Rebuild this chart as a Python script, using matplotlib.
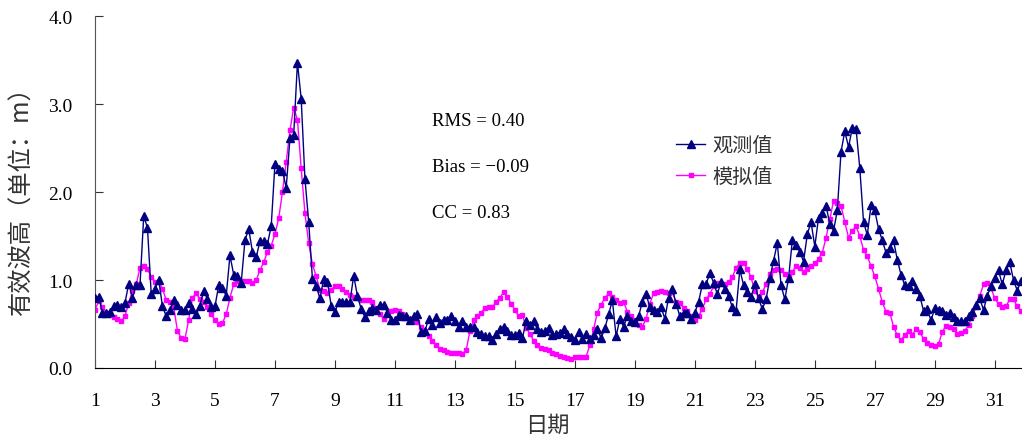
import numpy as np
import matplotlib
matplotlib.use("Agg")
import matplotlib.pyplot as plt

# 3-hourly significant wave height, 8 values per day, days 1..31
obs = [
    0.80, 0.81, 0.63, 0.62, 0.64, 0.71, 0.72, 0.69,
    0.74, 0.96, 0.80, 0.94, 0.94, 1.73, 1.59, 0.84,
    0.90, 1.00, 0.70, 0.59, 0.66, 0.77, 0.72, 0.66,
    0.66, 0.74, 0.67, 0.61, 0.71, 0.88, 0.78, 0.69,
    0.70, 0.94, 0.91, 0.82, 1.28, 1.06, 1.05, 0.97,
    1.45, 1.58, 1.32, 1.26, 1.44, 1.44, 1.41, 1.61,
    2.32, 2.26, 2.24, 2.05, 2.61, 2.65, 3.47, 3.06,
    2.15, 1.66, 1.01, 0.93, 0.79, 1.01, 0.98, 0.71,
    0.64, 0.75, 0.75, 0.75, 0.75, 1.05, 0.82, 0.67,
    0.58, 0.65, 0.68, 0.66, 0.72, 0.72, 0.63, 0.54,
    0.54, 0.60, 0.59, 0.59, 0.55, 0.59, 0.61, 0.41,
    0.42, 0.56, 0.49, 0.58, 0.51, 0.55, 0.55, 0.59,
    0.53, 0.47, 0.53, 0.47, 0.47, 0.47, 0.41, 0.39,
    0.36, 0.36, 0.32, 0.39, 0.44, 0.47, 0.42, 0.38,
    0.38, 0.40, 0.34, 0.53, 0.49, 0.53, 0.44, 0.41,
    0.42, 0.46, 0.37, 0.39, 0.40, 0.44, 0.39, 0.35,
    0.32, 0.41, 0.33, 0.39, 0.33, 0.37, 0.44, 0.34,
    0.45, 0.61, 0.77, 0.36, 0.56, 0.47, 0.59, 0.53,
    0.52, 0.59, 0.75, 0.84, 0.69, 0.66, 0.64, 0.69,
    0.56, 0.80, 0.90, 0.73, 0.59, 0.63, 0.63, 0.56,
    0.63, 0.75, 0.95, 0.95, 1.08, 0.97, 0.84, 0.98,
    0.90, 0.82, 0.69, 0.65, 1.12, 0.94, 0.86, 0.81,
    0.95, 0.79, 0.67, 0.78, 1.02, 1.22, 1.42, 0.94,
    0.78, 1.02, 1.45, 1.40, 1.32, 1.21, 1.52, 1.66,
    1.38, 1.71, 1.76, 1.84, 1.64, 1.56, 1.79, 2.46,
    2.69, 2.51, 2.73, 2.72, 2.27, 1.66, 1.51, 1.85,
    1.79, 1.58, 1.45, 1.31, 1.36, 1.45, 1.23, 1.06,
    0.94, 0.93, 0.99, 0.90, 0.82, 0.65, 0.67, 0.54,
    0.68, 0.66, 0.65, 0.60, 0.63, 0.58, 0.53, 0.53,
    0.53, 0.59, 0.64, 0.72, 0.79, 0.66, 0.82, 0.93,
    1.02, 1.11, 0.95, 1.11, 1.20, 1.00, 0.88, 0.99,
]

sim = [
    0.66, 0.76, 0.69, 0.63, 0.60, 0.58, 0.56, 0.53,
    0.59, 0.74, 0.88, 0.95, 1.14, 1.16, 1.13, 1.03,
    0.98, 0.98, 0.90, 0.77, 0.75, 0.69, 0.42, 0.34,
    0.33, 0.55, 0.80, 0.85, 0.78, 0.75, 0.69, 0.61,
    0.54, 0.50, 0.51, 0.61, 0.80, 0.95, 0.99, 0.99,
    0.99, 0.99, 0.97, 1.00, 1.11, 1.20, 1.32, 1.39,
    1.52, 1.70, 2.00, 2.34, 2.70, 2.96, 2.82, 2.27,
    1.76, 1.42, 1.18, 1.04, 0.89, 0.87, 0.85, 0.89,
    0.93, 0.93, 0.90, 0.86, 0.83, 0.81, 0.79, 0.77,
    0.77, 0.77, 0.75, 0.68, 0.61, 0.56, 0.61, 0.65,
    0.66, 0.65, 0.61, 0.58, 0.56, 0.54, 0.52, 0.47,
    0.42, 0.36, 0.31, 0.26, 0.22, 0.20, 0.18, 0.17,
    0.17, 0.17, 0.16, 0.20, 0.42, 0.54, 0.59, 0.63,
    0.68, 0.69, 0.69, 0.75, 0.80, 0.86, 0.81, 0.73,
    0.66, 0.59, 0.60, 0.46, 0.39, 0.31, 0.26, 0.23,
    0.22, 0.20, 0.17, 0.16, 0.14, 0.13, 0.11, 0.10,
    0.12, 0.12, 0.12, 0.13, 0.26, 0.44, 0.63, 0.72,
    0.79, 0.85, 0.81, 0.77, 0.74, 0.75, 0.64, 0.59,
    0.55, 0.49, 0.47, 0.56, 0.73, 0.85, 0.86, 0.87,
    0.86, 0.85, 0.86, 0.75, 0.74, 0.68, 0.65, 0.59,
    0.54, 0.59, 0.67, 0.78, 0.84, 0.93, 0.97, 0.95,
    0.95, 0.98, 1.03, 1.14, 1.19, 1.19, 1.13, 1.03,
    0.87, 0.81, 0.86, 0.95, 1.07, 1.11, 1.13, 1.11,
    1.07, 1.03, 1.09, 1.16, 1.14, 1.09, 1.12, 1.16,
    1.19, 1.24, 1.31, 1.48, 1.69, 1.90, 1.88, 1.84,
    1.66, 1.48, 1.56, 1.61, 1.50, 1.34, 1.27, 1.16,
    1.04, 0.90, 0.75, 0.64, 0.63, 0.47, 0.37, 0.32,
    0.37, 0.42, 0.38, 0.44, 0.41, 0.33, 0.28, 0.26,
    0.25, 0.27, 0.41, 0.48, 0.47, 0.44, 0.39, 0.40,
    0.42, 0.49, 0.59, 0.69, 0.82, 0.95, 0.97, 0.91,
    0.79, 0.73, 0.69, 0.70, 0.78, 0.78, 0.70, 0.65,
]

x_ticks = list(range(1, 32, 2))
y_ticks = [0.0, 1.0, 2.0, 3.0, 4.0]
series_labels = ["观测值", "模拟值"]
stats_lines = ["RMS = 0.40", "Bias = \u22120.09", "CC = 0.83"]
x_label = "日期"
y_label = "有效波高（单位：m）"

start_day = 1
step_days = 3 / 24

n = len(obs)
x = start_day + np.arange(n) * step_days

cjk = ["Noto Sans CJK SC", "DejaVu Sans"]
serif = ["Liberation Serif", "DejaVu Serif"]

fig = plt.figure(figsize=(10.22, 4.39), dpi=100)
ax = fig.add_axes([95 / 1022, 70 / 439, 926 / 1022, 352 / 439])

ax.plot(x, obs, color="#000080", lw=1.0, marker="^", ms=5.5,
        mec="#000080", mfc="#000080", label=series_labels[0], zorder=3)
ax.plot(x, sim, color="#FF00FF", lw=1.0, marker="s", ms=3.0,
        mec="#FF00FF", mfc="#FF00FF", label=series_labels[1], zorder=2)

ax.set_xlim(start_day, x[-1])
ax.set_ylim(0, 4)
ax.set_xticks(x_ticks)
ax.set_xticklabels([str(t) for t in x_ticks], fontfamily=serif, fontsize=14)
ax.set_yticks(y_ticks)
ax.set_yticklabels([f"{t:.1f}" for t in y_ticks], fontfamily=serif, fontsize=14)
ax.tick_params(axis="x", direction="in", length=6, pad=17, color="#333333")
ax.tick_params(axis="y", direction="in", length=6, pad=16, color="#333333")

for s in ["top", "right"]:
    ax.spines[s].set_visible(False)
ax.spines["left"].set_color("#555555")
ax.spines["bottom"].set_color("#000000")

for i, t in enumerate(stats_lines):
    fig.text(432 / 1022, 1 - (122 + 45.5 * i) / 439, t, fontfamily=serif,
             fontsize=13.5, ha="left", va="center")

leg = ax.legend(loc="upper left", bbox_to_anchor=(668 / 1022, 1 - 128 / 439),
                bbox_transform=fig.transFigure, frameon=False,
                prop={"family": cjk, "size": 14.5}, handlelength=1.45,
                handletextpad=0.35, labelspacing=0.5, borderaxespad=0)
for txt in leg.get_texts():
    txt.set_color("#333333")

fig.text(547 / 1022, 1 - 425 / 439, x_label, fontfamily=cjk, fontsize=16,
         ha="center", va="center", color="#333333")
fig.text(22 / 1022, 1 - 196 / 439, y_label, fontfamily=cjk, fontsize=17.5,
         ha="center", va="center", rotation=90, color="#333333")

fig.savefig("out.png", dpi=100)
